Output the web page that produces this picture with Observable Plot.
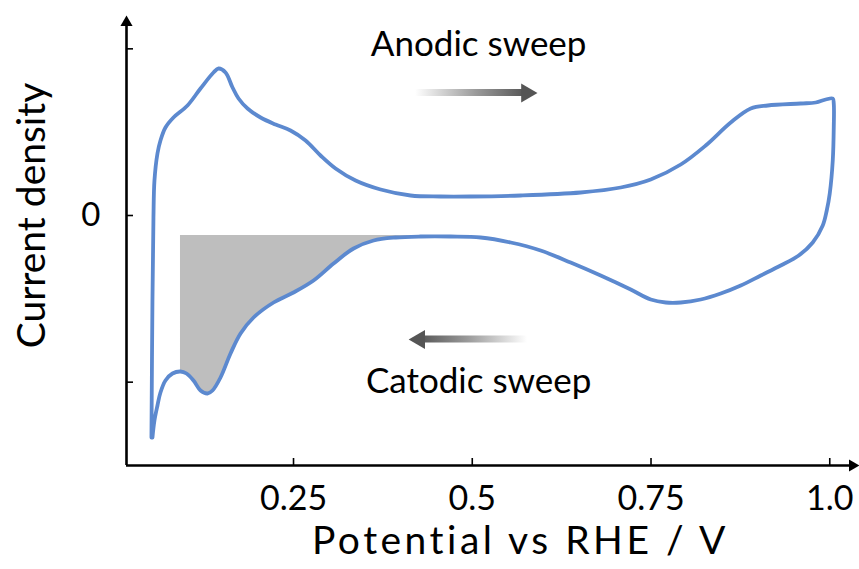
<!DOCTYPE html>
<html><head><meta charset="utf-8">
<script src="https://cdn.jsdelivr.net/npm/d3@7"></script>
<script src="https://cdn.jsdelivr.net/npm/@observablehq/plot@0.6"></script>
<style>body{margin:0;background:#fff;} svg{display:block}</style>
</head><body><div id="chart"></div>
<script>
// Cyclic voltammogram loop (potential in V vs RHE, current density in arbitrary units)
const potential = [0.0513, 0.0527, 0.0541, 0.0555, 0.0597, 0.0639, 0.0709, 0.0821, 0.1017, 0.1199,
  0.1381, 0.1451, 0.1549, 0.1647, 0.1731, 0.1857, 0.2039, 0.2249, 0.2458, 0.2668,
  0.2878, 0.3088, 0.3368, 0.3718, 0.4137, 0.4557, 0.4977, 0.5677, 0.6516, 0.7076,
  0.7496, 0.7916, 0.8265, 0.8615, 0.8895, 0.9133, 0.9594, 0.9804, 0.9944, 1.0042,
  1.0056, 1.0056, 1.0042, 1.0000, 0.9958, 0.9902, 0.9762, 0.9566, 0.9314, 0.9035,
  0.8755, 0.8475, 0.8195, 0.7916, 0.7706, 0.7496, 0.7216, 0.6796, 0.6376, 0.5956,
  0.5537, 0.5117, 0.4697, 0.4277, 0.3928, 0.3620, 0.3340, 0.3060, 0.2780, 0.2500,
  0.2221, 0.1941, 0.1759, 0.1619, 0.1479, 0.1367, 0.1297, 0.1199, 0.1101, 0.1003,
  0.0919, 0.0807, 0.0709, 0.0639, 0.0597, 0.0555, 0.0527];
const current = [-1.332, -0.510, -0.012, 0.210, 0.372, 0.450, 0.528, 0.588, 0.660, 0.762,
  0.858, 0.882, 0.858, 0.768, 0.702, 0.642, 0.588, 0.546, 0.510, 0.450,
  0.360, 0.282, 0.210, 0.156, 0.120, 0.114, 0.114, 0.120, 0.138, 0.168,
  0.216, 0.306, 0.420, 0.558, 0.642, 0.660, 0.672, 0.678, 0.696, 0.702,
  0.672, 0.528, 0.330, 0.132, 0.030, -0.060, -0.162, -0.240, -0.300, -0.360,
  -0.420, -0.468, -0.504, -0.522, -0.522, -0.504, -0.444, -0.360, -0.282, -0.210,
  -0.162, -0.132, -0.126, -0.126, -0.132, -0.150, -0.198, -0.288, -0.390, -0.462,
  -0.522, -0.612, -0.708, -0.828, -0.972, -1.050, -1.068, -1.050, -0.990, -0.948,
  -0.936, -0.948, -0.990, -1.062, -1.140, -1.230, -1.332];

// Shaded region under the cathodic branch
const shadePotential = [0.0919, 0.1003, 0.1101, 0.1199, 0.1297, 0.1367, 0.1479, 0.1619, 0.1759,
  0.1941, 0.2221, 0.2500, 0.2780, 0.3060, 0.3340, 0.3620, 0.3928, 0.4277];
const shadeCurrent = [-0.936, -0.948, -0.990, -1.050, -1.068, -1.050, -0.972, -0.828, -0.708,
  -0.612, -0.522, -0.462, -0.390, -0.288, -0.198, -0.150, -0.132, -0.120];
const shadeTop = -0.12;

// Axes
const xDomain = [0.0164, 1.0402];
const yDomain = [-1.5, 1.2];
const xTicks = [0.25, 0.5, 0.75, 1.0];
const xTickLabels = ["0.25", "0.5", "0.75", "1.0"];
const yTicks = [-1, 0, 1];
const yTickLabels = ["", "0", ""];
const xTitle = "Potential vs RHE / V";
const yTitle = "Current density";

// Sweep annotations
const sweepLabels = ["Anodic sweep", "Catodic sweep"];
const sweepLabelX = [0.5089, 0.5089];
const sweepLabelY = [1.027, -0.995];
const arrowTail = [0.4207, 0.5773];
const arrowTip = [0.5914, 0.4109];
const arrowY = [0.735, -0.744];

const loop = potential.map((x, i) => ({x, y: current[i]}));
const shade = shadePotential.map((x, i) => ({x, y: shadeCurrent[i], top: shadeTop}));
const sweeps = sweepLabels.map((t, i) => ({t, x: sweepLabelX[i], y: sweepLabelY[i],
  tail: arrowTail[i], tip: arrowTip[i], ay: arrowY[i], dir: i === 0 ? 1 : -1}));
const anodic = sweeps.filter(d => d.dir > 0);
const cathodic = sweeps.filter(d => d.dir < 0);

const font = "Lato, 'Open Sans', sans-serif";
const pxX = (xDomain[1] - xDomain[0]) / (858 - 126);
const pxY = (yDomain[1] - yDomain[0]) / (465 - 15);

const plot = Plot.plot({
  width: 859, height: 569,
  marginLeft: 126, marginRight: 1, marginTop: 15, marginBottom: 104,
  style: {fontFamily: font, background: "#fff", color: "#000"},
  x: {domain: xDomain},
  y: {domain: yDomain},
  marks: [
    Plot.areaY(shade, {x: "x", y1: "top", y2: "y", fill: "#bebebe", curve: "catmull-rom"}),
    Plot.line(loop, {x: "x", y: "y", stroke: "#5c89cf", strokeWidth: 3.8, curve: "catmull-rom"}),
    // axis lines
    Plot.ruleY([yDomain[0]], {x1: xDomain[0], x2: xDomain[1] - 8 * pxX, stroke: "#000", strokeWidth: 2.6}),
    Plot.ruleX([xDomain[0]], {y1: yDomain[0], y2: yDomain[1] - 8 * pxY, stroke: "#000", strokeWidth: 2.6}),
    Plot.dot([0], {x: () => xDomain[1], y: () => yDomain[0], symbol: "triangle", rotate: 90, r: 4.5, fill: "#000", dx: -6}),
    Plot.dot([0], {x: () => xDomain[0], y: () => yDomain[1], symbol: "triangle", r: 4.5, fill: "#000", dy: 7}),
    // ticks (pointing inward)
    Plot.ruleX(xTicks, {y1: yDomain[0], y2: yDomain[0] + 7 * pxY, stroke: "#000", strokeWidth: 1.6}),
    Plot.ruleY(yTicks, {x1: xDomain[0], x2: xDomain[0] + 7 * pxX, stroke: "#000", strokeWidth: 1.6}),
    Plot.axisX({ticks: xTicks, tickSize: 0, tickPadding: 20, tickFormat: (d, i) => xTickLabels[i],
      fontSize: 34, label: null, fill: "#000"}),
    Plot.axisY({ticks: yTicks, tickSize: 0, tickPadding: 26, tickFormat: (d, i) => yTickLabels[i],
      fontSize: 33, label: null, fill: "#000"}),
    Plot.text([xTitle], {frameAnchor: "bottom", dx: 28, dy: 88, fontSize: 39, fill: "#000"}),
    Plot.text([yTitle], {x: () => xDomain[0], y: () => 0, dx: -94, rotate: -90, fontSize: 39, fill: "#000"}),
    // sweep arrows
    Plot.rect(anodic, {x1: "tail", x2: d => d.tip - 11 * pxX, y1: d => d.ay - 3.5 * pxY, y2: d => d.ay + 3.5 * pxY, fill: "url(#gradA)"}),
    Plot.rect(cathodic, {x1: d => d.tip + 11 * pxX, x2: "tail", y1: d => d.ay - 3.5 * pxY, y2: d => d.ay + 3.5 * pxY, fill: "url(#gradC)"}),
    Plot.dot(anodic, {x: "tip", y: "ay", symbol: "triangle", rotate: 90, r: 7, fill: "#555", dx: -11}),
    Plot.dot(cathodic, {x: "tip", y: "ay", symbol: "triangle", rotate: -90, r: 7, fill: "#555", dx: 11}),
    Plot.text(sweeps, {x: "x", y: "y", text: "t", fontSize: 35, fill: "#000"})
  ]
});

// gradients for the sweep arrows
const defs = d3.select(plot).insert("defs", ":first-child");
const gA = defs.append("linearGradient").attr("id", "gradA").attr("x1", 0).attr("x2", 1).attr("y1", 0).attr("y2", 0);
gA.append("stop").attr("offset", 0).attr("stop-color", "#ffffff");
gA.append("stop").attr("offset", 0.55).attr("stop-color", "#9a9a9a");
gA.append("stop").attr("offset", 1).attr("stop-color", "#555555");
const gC = defs.append("linearGradient").attr("id", "gradC").attr("x1", 0).attr("x2", 1).attr("y1", 0).attr("y2", 0);
gC.append("stop").attr("offset", 0).attr("stop-color", "#555555");
gC.append("stop").attr("offset", 0.45).attr("stop-color", "#9a9a9a");
gC.append("stop").attr("offset", 1).attr("stop-color", "#ffffff");

// wider tracking on the x title, like the reference's typeface
d3.select(plot).selectAll("text").filter(function () { return this.textContent === xTitle; })
  .style("letter-spacing", "3.5px");

document.getElementById("chart").appendChild(plot);
</script></body></html>
